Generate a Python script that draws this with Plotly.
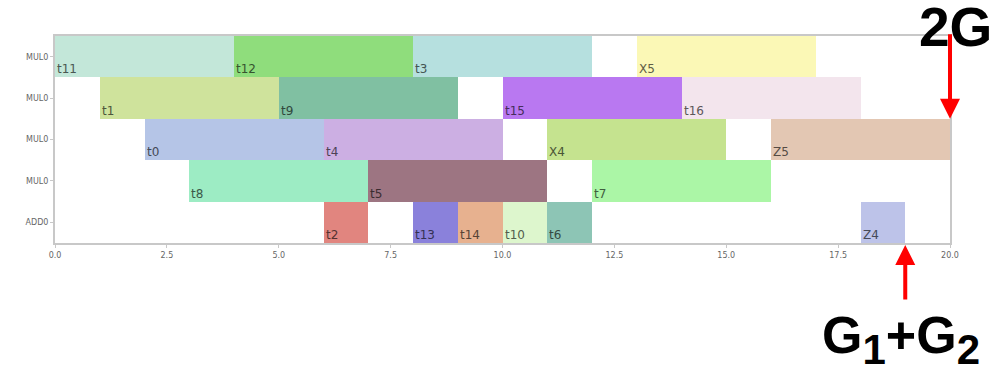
import plotly.graph_objects as go

# Schedule of operations on the functional units (lane 0 = ADD0 at the bottom)
lane_labels = ["ADD0", "MUL0", "MUL0", "MUL0", "MUL0"]
tasks = ["t11", "t12", "t3", "X5",
         "t1", "t9", "t15", "t16",
         "t0", "t4", "X4", "Z5",
         "t8", "t5", "t7",
         "t2", "t13", "t14", "t10", "t6", "Z4"]
lanes = [4, 4, 4, 4,
         3, 3, 3, 3,
         2, 2, 2, 2,
         1, 1, 1,
         0, 0, 0, 0, 0, 0]
starts = [0, 4, 8, 13,
          1, 5, 10, 14,
          2, 6, 11, 16,
          3, 7, 12,
          6, 8, 9, 10, 11, 18]
durations = [4, 4, 4, 4,
             4, 4, 4, 4,
             4, 4, 4, 4,
             4, 4, 4,
             1, 1, 1, 1, 1, 1]
colors = ["#c3e7d9", "#8fdd7c", "#b6e0df", "#fbf8b6",
          "#cfe39c", "#80c0a2", "#b978f1", "#f3e5ed",
          "#b5c5e7", "#ccafe3", "#c5e38f", "#e3c7b3",
          "#9decc4", "#9d7582", "#abf6a6",
          "#e1857f", "#8a81db", "#e7b18f", "#ddf6cd", "#8dc5b5", "#bdc3e9"]
xticks = [0.0, 2.5, 5.0, 7.5, 10.0, 12.5, 15.0, 17.5, 20.0]

# plot area in pixels, used to place the big callout labels in paper units
L, R, T, B = 55, 45, 36, 128
W, H = 995, 371
PW, PH = W - L - R, H - T - B


def darker(hex_color, f=0.38):
    h = hex_color.lstrip("#")
    r, g, b = (int(h[i:i + 2], 16) for i in (0, 2, 4))
    return f"rgb({int(r * f)},{int(g * f)},{int(b * f)})"


def paper_xy(px, py):
    return (px - L) / PW, (H - B - py) / PH


fig = go.Figure(go.Bar(
    orientation="h",
    y=lanes,
    x=durations,
    base=starts,
    width=1.0,
    marker=dict(color=colors, line=dict(width=0)),
    hovertext=tasks,
    showlegend=False,
))

annotations = []
for name, lane, s, c in zip(tasks, lanes, starts, colors):
    annotations.append(dict(
        x=s, y=lane - 0.5, xref="x", yref="y",
        text=name, showarrow=False,
        xanchor="left", yanchor="bottom", yshift=-1,
        font=dict(size=12, color=darker(c), family="DejaVu Sans"),
    ))

# 2G: arrow down to the end of the last MUL0 operation
annotations.append(dict(
    x=20, y=2.5, xref="x", yref="y", text="",
    showarrow=True, arrowhead=2, arrowsize=1, arrowwidth=4,
    arrowcolor="#ff0000", ax=0, ay=-86,
))
gx, gy = paper_xy(955, 27)
annotations.append(dict(
    x=gx, y=gy, xref="paper", yref="paper", text="<b>2G</b>",
    showarrow=False, xanchor="center", yanchor="middle",
    font=dict(size=55, color="black", family="Liberation Sans"),
))

# G1+G2: arrow up to the end of the last ADD0 operation
annotations.append(dict(
    x=19, y=-0.5, xref="x", yref="y", text="",
    showarrow=True, arrowhead=2, arrowsize=1, arrowwidth=4,
    arrowcolor="#ff0000", ax=0, ay=58, standoff=2,
))
sub = "<sub><span style='font-size:42px'>{}</span></sub>"
sx, sy = paper_xy(901, 339)
annotations.append(dict(
    x=sx, y=sy, xref="paper", yref="paper",
    text="<b>G" + sub.format("1") + "+G" + sub.format("2") + "</b>",
    showarrow=False, xanchor="center", yanchor="middle",
    font=dict(size=52, color="black", family="Liberation Sans"),
))

fig.update_layout(
    width=W, height=H,
    margin=dict(l=L, r=R, t=T, b=B),
    paper_bgcolor="white", plot_bgcolor="white",
    bargap=0, barmode="overlay",
    annotations=annotations,
    xaxis=dict(
        range=[0, 20], tickvals=xticks, ticktext=[f"{v:.1f}" for v in xticks],
        showgrid=False, zeroline=False,
        showline=True, mirror=True, linecolor="#c8c8c8", linewidth=2,
        ticks="outside", ticklen=3, tickcolor="#c8c8c8",
        tickfont=dict(size=8, color="#666666", family="DejaVu Sans"),
    ),
    yaxis=dict(
        range=[-0.5, 4.5], tickvals=[0, 1, 2, 3, 4], ticktext=lane_labels,
        showgrid=False, zeroline=False,
        showline=True, mirror=True, linecolor="#c8c8c8", linewidth=2,
        ticks="outside", ticklen=3, tickcolor="#c8c8c8",
        tickfont=dict(size=8, color="#666666", family="DejaVu Sans"),
    ),
)

fig.write_html("out.html")
